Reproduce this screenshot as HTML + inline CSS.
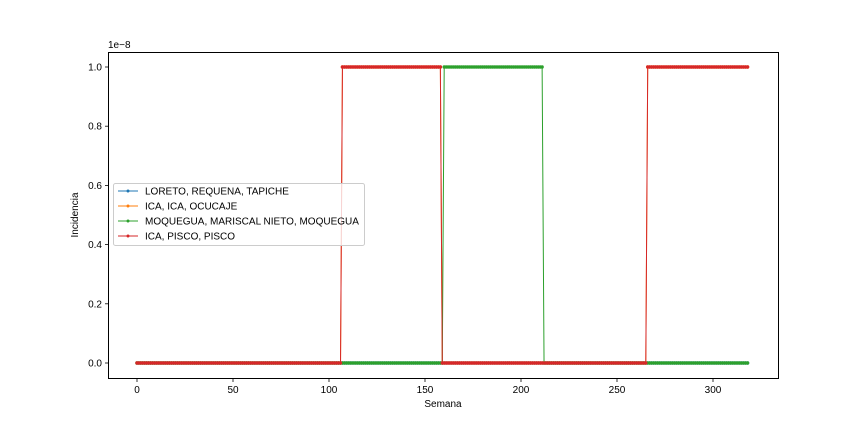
<!DOCTYPE html>
<html><head><meta charset="utf-8"><style>
body{margin:0;background:#fff;}
svg text{font-family:"Liberation Sans","DejaVu Sans",sans-serif;}
</style></head><body>
<svg id="chart" width="864" height="432" viewBox="0 0 864 432" xmlns="http://www.w3.org/2000/svg">
<rect x="0" y="0" width="864" height="432" fill="#fff"/>
<g id="plot"></g>
<rect x="108.5" y="52.5" width="670" height="326" fill="none" stroke="#000" stroke-width="1"/>
<g id="axes"></g>
<text x="108" y="48" font-size="10">1e−8</text>
<text x="443" y="407" font-size="10" text-anchor="middle">Semana</text>
<text transform="translate(78,215) rotate(-90)" font-size="10" text-anchor="middle">Incidencia</text>
<g id="legend"></g>
</svg>
<script>
// Data: runs of [startWeek, endWeek, value(×1e-8)]
const seriesNames = ["LORETO, REQUENA, TAPICHE","ICA, ICA, OCUCAJE","MOQUEGUA, MARISCAL NIETO, MOQUEGUA","ICA, PISCO, PISCO"];
const seriesColors = ["#1f77b4","#ff7f0e","#2ca02c","#d62728"];
const loretoRuns = [[0,318,0]];
const ocucajeRuns = [[0,106,0],[107,158,1],[159,265,0],[266,318,1]];
const moqueguaRuns = [[0,159,0],[160,211,1],[212,318,0]];
const piscoRuns = [[0,106,0],[107,158,1],[159,265,0],[266,318,1]];
const xTicks = [0,50,100,150,200,250,300];
const yTicks = [0,0.2,0.4,0.6,0.8,1.0];
const yTickLabels = ["0.0","0.2","0.4","0.6","0.8","1.0"];

const NS="http://www.w3.org/2000/svg";
const xScale = w => 137 + w*1.92;
const yScale = v => 363 - v*296;
function mk(tag, attrs, parent){const e=document.createElementNS(NS,tag);for(const k in attrs)e.setAttribute(k,attrs[k]);parent.appendChild(e);return e;}
function expand(runs){const out=[];runs.forEach(r=>{for(let w=r[0];w<=r[1];w++)out.push([w,r[2]]);});return out;}

const plot=document.getElementById('plot');
const allRuns=[loretoRuns,ocucajeRuns,moqueguaRuns,piscoRuns];
const keys=["loreto","ocucaje","moquegua","pisco"];
allRuns.forEach((runs,i)=>{
  const pts=expand(runs);
  const g=mk('g',{},plot);
  
  
  const line=mk('polyline',{points:pts.map(p=>xScale(p[0]).toFixed(2)+','+yScale(p[1]).toFixed(2)).join(' '),fill:'none',stroke:seriesColors[i],'stroke-width':1},g);
  
  
  pts.forEach(p=>{
    const c=mk('circle',{cx:xScale(p[0]),cy:yScale(p[1]),r:1.7,fill:seriesColors[i]},g);
    
    
  });
});

const axes=document.getElementById('axes');
xTicks.forEach(t=>{
  const x=xScale(t);
  const l=mk('line',{x1:x,x2:x,y1:378.5,y2:382,stroke:'#000','stroke-width':0.8},axes);
  
  
  const tx=mk('text',{x:x,y:393,'font-size':10,'text-anchor':'middle'},axes);
  tx.textContent=t;
  
  
});
yTicks.forEach((t,i)=>{
  const y=yScale(t);
  const l=mk('line',{x1:105,x2:108.5,y1:y,y2:y,stroke:'#000','stroke-width':0.8},axes);
  
  
  const tx=mk('text',{x:102,y:y+3.5,'font-size':10,'text-anchor':'end'},axes);
  tx.textContent=yTickLabels[i];
  
  
});

const lg=document.getElementById('legend');
mk('rect',{x:113.5,y:183.5,width:251,height:62,rx:2,fill:'#fff','fill-opacity':0.8,stroke:'#ccc'},lg);
seriesNames.forEach((n,i)=>{
  const y=191+i*15;
  const g=mk('g',{},lg);
  
  
  mk('line',{x1:118,x2:138,y1:y,y2:y,stroke:seriesColors[i],'stroke-width':1},g);
  mk('circle',{cx:128,cy:y,r:1.5,fill:seriesColors[i]},g);
  const tx=mk('text',{x:145,y:y+3.5,'font-size':10},g);
  tx.textContent=n;
});
</script>
</body></html>
